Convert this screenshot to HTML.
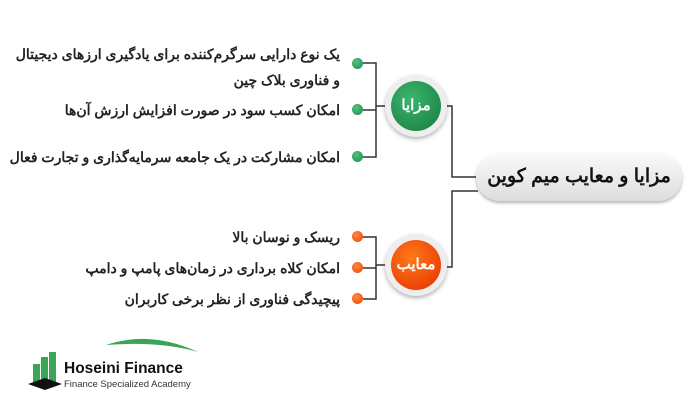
<!DOCTYPE html>
<html><head><meta charset="utf-8"><style>
body{margin:0;width:700px;height:400px;background:#fff;position:relative;overflow:hidden;font-family:"Liberation Sans","Noto Sans CJK SC",sans-serif}
.t{position:absolute;right:360px;direction:rtl;font-size:14px;font-weight:bold;color:#222;white-space:nowrap;line-height:20px}
.d{position:absolute;width:11px;height:11px;border-radius:50%;left:352px}
.g{background:radial-gradient(circle at 40% 35%,#4fc17f,#1f8a4c)}
.o{background:radial-gradient(circle at 40% 35%,#ff8a3a,#e8430a)}
.c{position:absolute;width:62px;height:62px;border-radius:50%;background:#eee;box-shadow:0 2px 4px rgba(0,0,0,.3);left:385px}
.c div{position:absolute;left:6px;top:6px;width:50px;height:50px;border-radius:50%;color:#fff;font-weight:bold;font-size:15px;text-align:center;line-height:50px}
</style></head><body>
<svg width="700" height="400" style="position:absolute;left:0;top:0">
<g stroke="#333" stroke-width="1.5" fill="none">
<path d="M363 63H376V157H363M363 110H376M376 106H386"/>
<path d="M363 237H376V299H363M363 268H376M376 265H386"/>
<path d="M447 106H452V177H478M478 191H452V267H447"/>
</g>
<path d="M106 345 Q150 330 198 352 Q160 341 106 345Z" fill="#3aa655"/>
<g fill="#3aa655"><rect x="33" y="364" width="7" height="18"/><rect x="41" y="357" width="7" height="25"/><rect x="49" y="352" width="7" height="30"/></g>
<path d="M28 384 L45 378 L62 384 L45 390Z" fill="#111"/>
<text x="64" y="373" font-family="Liberation Sans" font-size="15.5" font-weight="bold" fill="#111">Hoseini Finance</text>
<text x="64" y="387" font-family="Liberation Sans" font-size="9.5" fill="#333">Finance Specialized Academy</text>
</svg>
<div style="position:absolute;left:476px;top:153px;width:206px;height:48px;border-radius:24px;background:linear-gradient(#fafafa,#ddd);box-shadow:0 2px 3px rgba(0,0,0,.3);text-align:center;line-height:48px;font-size:19px;font-weight:bold;direction:rtl;color:#111">مزایا و معایب میم کوین</div>
<div class="c" style="top:75px"><div style="background:radial-gradient(circle at 40% 35%,#3bb56e,#167a3f)">مزایا</div></div>
<div class="c" style="top:234px"><div style="background:radial-gradient(circle at 40% 35%,#ff7a1a,#e42d00)">معایب</div></div>
<div class="d g" style="top:58px"></div><div class="d g" style="top:104px"></div><div class="d g" style="top:151px"></div>
<div class="d o" style="top:231px"></div><div class="d o" style="top:262px"></div><div class="d o" style="top:293px"></div>
<div class="t" style="top:44px">یک نوع دارایی سرگرم‌کننده برای یادگیری ارزهای دیجیتال</div>
<div class="t" style="top:70px">و فناوری بلاک چین</div>
<div class="t" style="top:100px">امکان کسب سود در صورت افزایش ارزش آن‌ها</div>
<div class="t" style="top:147px">امکان مشارکت در یک جامعه سرمایه‌گذاری و تجارت فعال</div>
<div class="t" style="top:227px">ریسک و نوسان بالا</div>
<div class="t" style="top:258px">امکان کلاه برداری در زمان‌های پامپ و دامپ</div>
<div class="t" style="top:289px">پیچیدگی فناوری از نظر برخی کاربران</div>
</body></html>
